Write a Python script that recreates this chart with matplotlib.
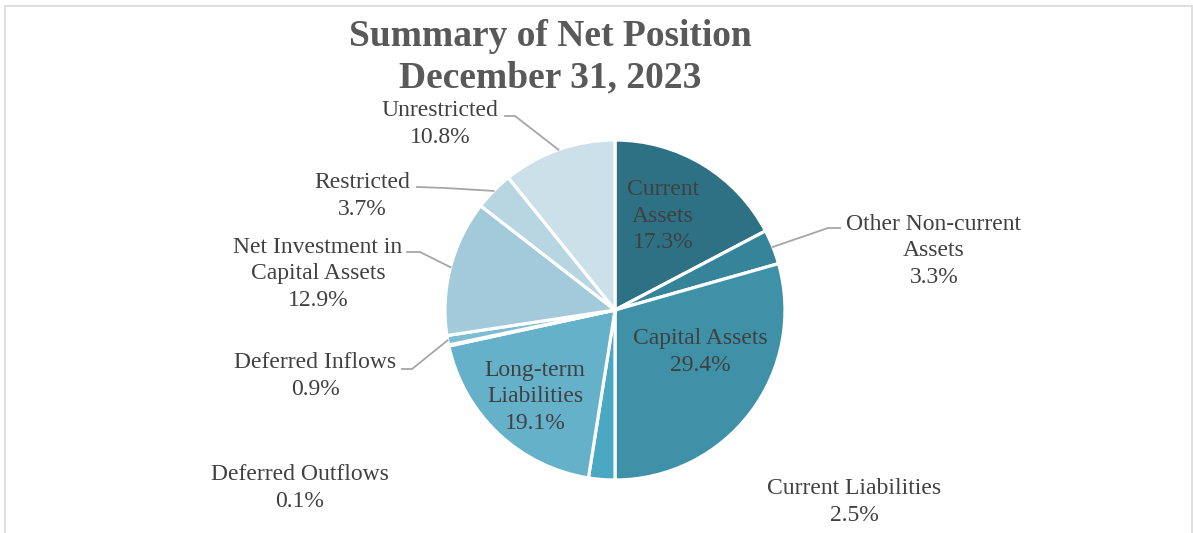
import matplotlib.pyplot as plt
import numpy as np
from matplotlib.patches import Rectangle

# Net position components, as shares of the total (%)
categories = ["Current\nAssets", "Other Non-current\nAssets", "Capital Assets",
              "Current Liabilities", "Long-term\nLiabilities", "Deferred Outflows",
              "Deferred Inflows", "Net Investment in\nCapital Assets", "Restricted",
              "Unrestricted"]
shares = [17.3, 3.3, 29.4, 2.5, 19.1, 0.1, 0.9, 12.9, 3.7, 10.8]
colors = ["#2E7185", "#35849A", "#3F91A8", "#4AA8C3", "#64B1C9",
          "#72B8CE", "#7DBDD1", "#A3CADA", "#B7D6E2", "#CCE0E9"]

plt.rcParams['font.family'] = ['Liberation Serif', 'DejaVu Serif']

W, H = 1193, 533
cx, cy, R = 615, 310, 170   # pie centre and radius in pixels

fig = plt.figure(figsize=(W / 100, H / 100), dpi=100)
ax = fig.add_axes([0, 0, 1, 1])

wedges, _ = ax.pie(shares, colors=colors, startangle=90, counterclock=False, radius=1,
                   wedgeprops=dict(edgecolor='white', linewidth=2.3))

# pie() resets the limits, so fix them afterwards
ax.set_xlim(-cx / R, (W - cx) / R)
ax.set_ylim(-(H - cy) / R, cy / R)
ax.set_aspect('equal')
ax.axis('off')


def px(x, y):
    # pixel position -> data units
    return (x - cx) / R, (cy - y) / R


# label centre (pixels) and leader elbow/end (pixels) for each slice; None = no leader
label_pos = [(663, 216), (934, 251), (700, 352), (854, 502), (535, 397),
             (300, 488), (315, 376), (318, 274), (362, 196), (440, 124)]
leaders = [None, ((828, 228), (840, 228)), None, None, None,
           None, ((412, 369), (402, 369)), ((420, 252), (407, 252)),
           ((445, 188), (417, 187)), ((515, 116), (505, 116))]

for w, name, val, pos, lead in zip(wedges, categories, shares, label_pos, leaders):
    tx, ty = px(*pos)
    ax.text(tx, ty, f"{name}\n{val:.1f}%", ha='center', va='center',
            fontsize=17, color='#404040', linespacing=1.32)
    if lead is not None:
        mid = np.deg2rad((w.theta1 + w.theta2) / 2)
        ex, ey = px(*lead[0])
        fx, fy = px(*lead[1])
        ax.plot([np.cos(mid), ex, fx], [np.sin(mid), ey, fy], color='#A6A6A6', lw=1.3,
                solid_joinstyle='miter')

fig.text(550 / W, 1 - 57 / H, "Summary of Net Position\nDecember 31, 2023", ha='center',
         va='center', fontsize=27, fontweight='bold', color='#595959', linespacing=1.25)

# chart frame
fig.patches.append(Rectangle((5 / W, -0.05), 1187 / W, 1 - 6 / H + 0.05,
                             transform=fig.transFigure, fill=False,
                             edgecolor='#D9D9D9', linewidth=1.2))

fig.savefig('out.png', dpi=100)
